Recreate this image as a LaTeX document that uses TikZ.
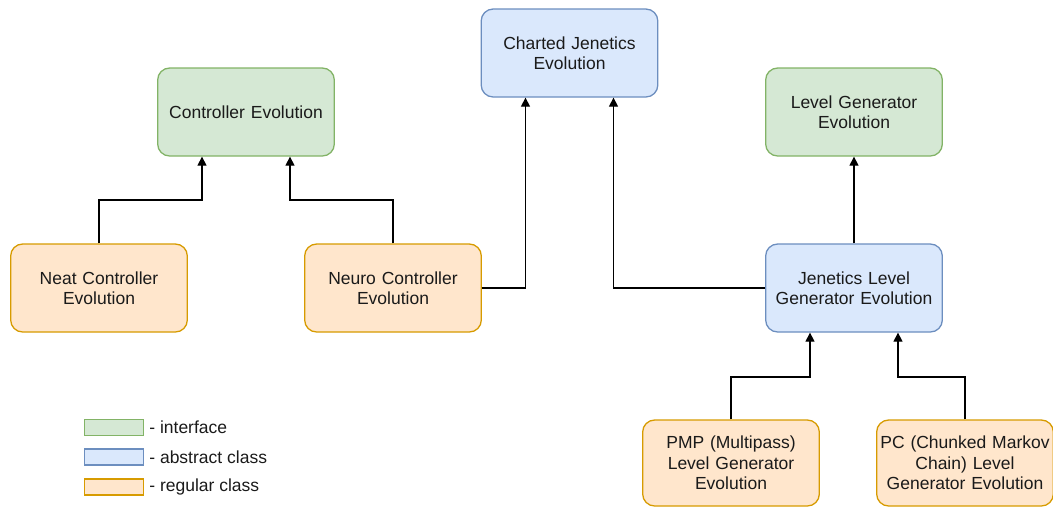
\documentclass[tikz,border=0pt]{standalone}
\usepackage{fontspec}
\setmainfont{Liberation Sans}
\usetikzlibrary{arrows.meta}
\definecolor{ifill}{HTML}{D5E8D4}\definecolor{idraw}{HTML}{82B366}
\definecolor{afill}{HTML}{DAE8FC}\definecolor{adraw}{HTML}{6C8EBF}
\definecolor{rfill}{HTML}{FFE6CC}\definecolor{rdraw}{HTML}{D79B00}
\definecolor{txt}{HTML}{1A1A1A}
\tikzset{
  cls/.style={rounded corners=12pt, line width=1.3pt, minimum width=176pt, minimum height=88pt,
    align=center, text width=170pt, font=\fontsize{17.5}{20.5}\selectfont, text=txt},
  iface/.style={cls, fill=ifill, draw=idraw},
  abstr/.style={cls, fill=afill, draw=adraw},
  regular/.style={cls, fill=rfill, draw=rdraw},
  legbox/.style={minimum width=59pt, minimum height=16pt, inner sep=0pt, line width=1.3pt},
  legtext/.style={anchor=west, inner sep=0pt, font=\fontsize{17.5}{20.5}\selectfont, text=txt},
  arr/.style={line width=1.3pt, -{Triangle[length=9pt,width=9pt]}}
}
\begin{document}
\begin{tikzpicture}[x=1pt,y=-1pt]
\useasboundingbox (0,0) rectangle (1053,507);
% class boxes
\node[iface] (ctrl) at (246,112) {Controller Evolution};
\node[abstr] (chart) at (569.5,53) {Charted Jenetics\\Evolution};
\node[iface] (lvl) at (854,112) {Level Generator\\Evolution};
\node[regular] (neat) at (99,288) {Neat Controller\\Evolution};
\node[regular] (neuro) at (393,288) {Neuro Controller\\Evolution};
\node[abstr] (jlg) at (854,288) {Jenetics Level\\Generator Evolution};
\node[regular, minimum height=86pt] (pmp) at (731,463) {PMP (Multipass)\\Level Generator\\Evolution};
\node[regular, minimum height=86pt] (pc) at (965,463) {PC (Chunked Markov\\Chain) Level\\Generator Evolution};
% inheritance connectors
\draw[arr] (neat.north) -- (neat.north |- 0,200) -| ([xshift=-44pt]ctrl.south);
\draw[arr] (neuro.north) -- (neuro.north |- 0,200) -| ([xshift=44pt]ctrl.south);
\draw[arr] (neuro.east) -| ([xshift=-44pt]chart.south);
\draw[arr] (jlg.west) -| ([xshift=44pt]chart.south);
\draw[arr] (jlg.north) -- (lvl.south);
\draw[arr] (pmp.north) -- (pmp.north |- 0,377) -| ([xshift=-44pt]jlg.south);
\draw[arr] (pc.north) -- (pc.north |- 0,377) -| ([xshift=44pt]jlg.south);
% legend
\node[legbox, fill=ifill, draw=idraw] (li) at (114,427.5) {};
\node[legbox, fill=afill, draw=adraw] (la) at (114,457) {};
\node[legbox, fill=rfill, draw=rdraw] (lr) at (114,487) {};
\node[legtext] (lit) at ([xshift=5pt]li.east) {- interface};
\node[legtext] (lat) at ([xshift=5pt]la.east) {- abstract class};
\node[legtext] (lrt) at ([xshift=5pt]lr.east) {- regular class};
\end{tikzpicture}
\end{document}
